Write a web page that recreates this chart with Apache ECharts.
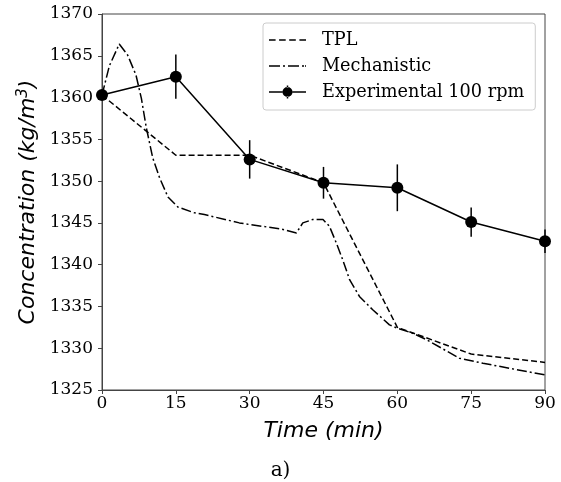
<!DOCTYPE html>
<html>
<head>
<meta charset="utf-8">
<script src="https://cdn.jsdelivr.net/npm/echarts@6/dist/echarts.min.js"></script>
<style>
  html, body { margin: 0; padding: 0; background: #fff; }
  #chart { width: 561px; height: 482px; }
</style>
</head>
<body>
<div id="chart"></div>
<script>
  // axis ticks
  var timeTicks = [0, 15, 30, 45, 60, 75, 90];
  var concTicks = [1325, 1330, 1335, 1340, 1345, 1350, 1355, 1360, 1365, 1370];

  // experimental 100 rpm (mean + error)
  var expTime = [0, 15, 30, 45, 60, 75, 90];
  var expConc = [1360.3, 1362.5, 1352.6, 1349.8, 1349.2, 1345.1, 1342.8];
  var expErr = [0, 2.65, 2.3, 1.9, 2.8, 1.75, 1.4];

  // TPL model
  var tplTime = [0, 15, 30, 45, 60, 75, 90];
  var tplConc = [1360.3, 1353.1, 1353.1, 1349.8, 1332.5, 1329.3, 1328.3];

  // mechanistic model
  var mechTime = [0, 1.5, 3.5, 5.2, 6.9, 8.0, 9.0, 10.3, 11.7, 13.4, 15.4, 18.8, 20.8, 27.9, 30,
    36.1, 39.5, 40.8, 42.8, 44.9, 46.2, 47.6, 48.9, 50.3, 52.3, 55.0, 58.4, 60, 63.1, 66, 72.6, 77.4, 90];
  var mechConc = [1360.3, 1363.8, 1366.4, 1365.1, 1362.7, 1359.9, 1356.4, 1352.8, 1350.4, 1348.1, 1346.9, 1346.2, 1346.0, 1345.0, 1344.8,
    1344.3, 1343.8, 1345.0, 1345.4, 1345.4, 1344.6, 1342.6, 1340.6, 1338.2, 1336.2, 1334.6, 1332.8, 1332.4, 1331.8, 1331.0, 1328.8, 1328.2, 1326.8];

  var zip = function (xs, ys) {
    return xs.map(function (x, i) { return [x, ys[i]] })
  }
  var errData = expTime.map(function (t, i) {
    return [t, expConc[i] - expErr[i], expConc[i] + expErr[i]]
  })

  // legend icons drawn like matplotlib handles
  var iconDashed = 'path://M0,0h6.6v1.5h-6.6z M10.1,0h6.6v1.5h-6.6z M20.2,0h6.6v1.5h-6.6z M30.4,0h6.6v1.5h-6.6z'
  var iconDashDot = 'path://M0,0h11v1.5h-11z M14,0h2v1.5h-2z M19,0h11v1.5h-11z M33,0h2v1.5h-2z M36,0h1v1.5h-1z'
  var iconErrMarker = 'path://M0,5.75h13.5v1.5h-13.5z M23.5,5.75h13.5v1.5h-13.5z M17.75,0h1.5v2h-1.5z M17.75,11h1.5v2h-1.5z M13.5,6.5a5,5 0 1,0 10,0a5,5 0 1,0 -10,0z'

  var serif = 'DejaVu Serif'
  var axisColor = '#444'

  var myChart = echarts.init(document.getElementById('chart'))
  myChart.setOption({
    animation: false,
    title: {
      text: 'a)',
      left: 'center',
      top: 456,
      textStyle: { fontFamily: serif, fontSize: 20, fontWeight: 'normal', color: '#000' }
    },
    legend: {
      data: [
        { name: 'TPL', icon: iconDashed },
        { name: 'Mechanistic', icon: iconDashDot },
        { name: 'Experimental 100 rpm', icon: iconErrMarker }
      ],
      orient: 'vertical',
      left: 263,
      top: 23,
      padding: [8, 11, 9, 6],
      itemWidth: 37,
      itemHeight: 13,
      itemGap: 8,
      borderColor: '#ccc',
      borderWidth: 1,
      borderRadius: 3,
      backgroundColor: 'rgba(255,255,255,0.8)',
      textStyle: { fontFamily: serif, fontSize: 17.7, color: '#000', padding: [0, 0, 0, 11] }
    },
    grid: {
      left: 102,
      right: 16,
      top: 14,
      bottom: 92,
      show: true,
      borderColor: axisColor,
      borderWidth: 1,
      backgroundColor: 'transparent'
    },
    xAxis: {
      type: 'value',
      min: timeTicks[0],
      max: timeTicks[timeTicks.length - 1],
      interval: 15,
      name: 'Time (min)',
      nameLocation: 'middle',
      nameGap: 30,
      nameTextStyle: { fontFamily: 'DejaVu Sans', fontStyle: 'italic', fontSize: 22, color: '#000' },
      axisLine: { lineStyle: { color: axisColor, width: 1 } },
      axisTick: { inside: false, length: 4, lineStyle: { color: axisColor } },
      axisLabel: { margin: 5, fontFamily: serif, fontSize: 17, color: '#000' },
      splitLine: { show: false }
    },
    yAxis: {
      type: 'value',
      min: concTicks[0],
      max: concTicks[concTicks.length - 1],
      interval: 5,
      name: 'Concentration (kg/m{sup|3})',
      nameLocation: 'middle',
      nameGap: 56,
      nameTextStyle: {
        fontFamily: 'DejaVu Sans', fontStyle: 'italic', fontSize: 22, color: '#000',
        rich: {
          sup: { fontFamily: 'DejaVu Sans', fontSize: 15, color: '#000', verticalAlign: 'top', padding: [0, 0, 9, 0] }
        }
      },
      axisLine: { show: true, lineStyle: { color: axisColor, width: 1 } },
      axisTick: { show: true, inside: false, length: 4, lineStyle: { color: axisColor } },
      axisLabel: {
        margin: 9, fontFamily: serif, fontSize: 17, color: '#000',
        formatter: function (v) { return String(v) }
      },
      splitLine: { show: false }
    },
    series: [{
        name: 'TPL',
        type: 'line',
        data: zip(tplTime, tplConc),
        symbol: 'none',
        lineStyle: { color: '#000', width: 1.5, type: [6, 3] },
        itemStyle: { color: '#000' },
        z: 2
      },
      {
        name: 'Mechanistic',
        type: 'line',
        data: zip(mechTime, mechConc),
        symbol: 'none',
        lineStyle: { color: '#000', width: 1.5, type: [10, 3, 2, 3] },
        itemStyle: { color: '#000' },
        z: 2
      },
      {
        name: 'errors',
        type: 'custom',
        data: errData,
        encode: { x: 0, y: [1, 2] },
        renderItem: function (params, api) {
          var lo = api.coord([api.value(0), api.value(1)])
          var hi = api.coord([api.value(0), api.value(2)])
          return {
            type: 'line',
            shape: { x1: lo[0], y1: lo[1], x2: hi[0], y2: hi[1] },
            style: { stroke: '#000', lineWidth: 1.5 }
          }
        },
        z: 3
      },
      {
        name: 'Experimental 100 rpm',
        type: 'line',
        data: zip(expTime, expConc),
        symbol: 'circle',
        symbolSize: 12,
        lineStyle: { color: '#000', width: 1.5 },
        itemStyle: { color: '#000' },
        z: 4
      }
    ]
  })
</script>
</body>
</html>
